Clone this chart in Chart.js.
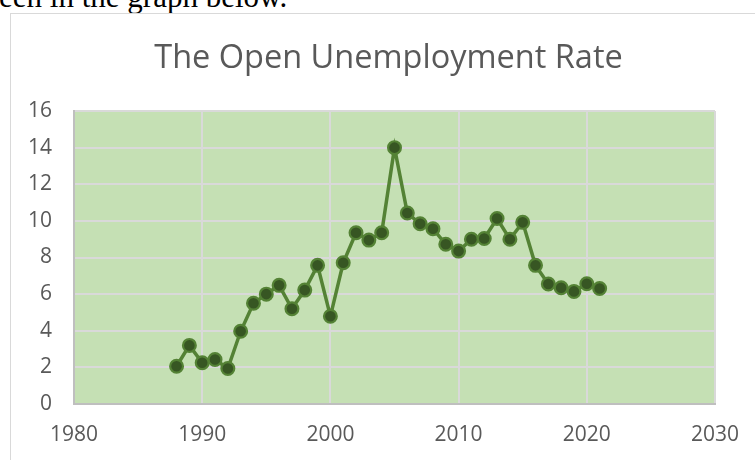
<!DOCTYPE html>
<html>
<head>
<meta charset="utf-8">
<script src="https://cdn.jsdelivr.net/npm/chart.js@4/dist/chart.umd.min.js"></script>
<style>
  html, body { margin: 0; padding: 0; background: #ffffff; overflow: hidden; width: 755px; height: 460px; }
  #intro { position: absolute; left: -13px; top: -19px; font-family: "Liberation Serif", "Times New Roman", serif; font-size: 31px; line-height: 31px; color: #000; white-space: nowrap; }
  #frame { position: absolute; left: 10px; top: 13px; width: 800px; height: 500px; border-left: 1px solid #d9d9d9; border-top: 1px solid #d9d9d9; }
  #wrap { position: absolute; left: 11px; top: 14px; width: 755px; height: 446px; }
</style>
</head>
<body>
<div id="intro">seen in the graph below.</div>
<div id="frame"></div>
<div id="wrap"><canvas id="c"></canvas></div>
<script>
const chartTitle = "The Open Unemployment Rate";
const years = [1988,1989,1990,1991,1992,1993,1994,1995,1996,1997,1998,1999,2000,2001,2002,2003,2004,2005,2006,2007,2008,2009,2010,2011,2012,2013,2014,2015,2016,2017,2018,2019,2020,2021];
const rates = [2.06,3.2,2.25,2.43,1.94,3.97,5.5,6.0,6.48,5.2,6.22,7.57,4.79,7.71,9.35,8.95,9.35,14.0,10.43,9.84,9.57,8.72,8.35,9.0,9.04,10.13,9.0,9.92,7.57,6.55,6.35,6.15,6.57,6.31];
const xTicks = [1980,1990,2000,2010,2020,2030];
const yTicks = [0,2,4,6,8,10,12,14,16];

const points = years.map((y, i) => ({ x: y, y: rates[i] }));

const plotBg = {
  id: 'plotBg',
  beforeDraw(chart) {
    const { ctx, chartArea: a } = chart;
    ctx.save();
    ctx.fillStyle = '#c5e0b4';
    ctx.fillRect(a.left, a.top, a.right - a.left, a.bottom - a.top);
    ctx.restore();
  }
};

const tickFont = { family: "'Open Sans', sans-serif", size: 21 };

new Chart(document.getElementById('c'), {
  type: 'line',
  data: {
    datasets: [{
      data: points,
      borderColor: '#548235',
      borderWidth: 3.5,
      pointRadius: 6.4,
      pointHoverRadius: 6.4,
      pointBorderWidth: 2.2,
      pointBackgroundColor: '#375623',
      pointBorderColor: '#548235',
      tension: 0,
      fill: false
    }]
  },
  options: {
    responsive: true,
    maintainAspectRatio: false,
    animation: false,
    layout: { padding: 0 },
    plugins: {
      legend: { display: false },
      tooltip: { enabled: false },
      title: {
        display: true,
        text: chartTitle,
        color: '#595959',
        font: { family: "'Open Sans', sans-serif", size: 32.5, weight: 'normal', lineHeight: 1.2 },
        padding: { top: 25, bottom: 33 }
      }
    },
    scales: {
      x: {
        type: 'linear',
        min: xTicks[0],
        max: xTicks[xTicks.length - 1],
        afterBuildTicks(scale) { scale.ticks = xTicks.map(v => ({ value: v })); },
        afterFit(scale) { scale.height = 56; },
        ticks: {
          color: '#595959',
          font: tickFont,
          padding: 18,
          maxRotation: 0,
          autoSkip: false,
          callback: v => String(v)
        },
        grid: { color: '#d9d9d9', lineWidth: 2, drawTicks: false },
        border: { display: true, color: '#bfbfbf', width: 2 }
      },
      y: {
        min: yTicks[0],
        max: yTicks[yTicks.length - 1],
        afterBuildTicks(scale) { scale.ticks = yTicks.map(v => ({ value: v })); },
        afterFit(scale) { scale.width = 63; },
        ticks: {
          color: '#595959',
          font: tickFont,
          padding: 22,
          callback: v => String(v)
        },
        grid: { color: '#d9d9d9', lineWidth: 2, drawTicks: false },
        border: { display: true, color: '#bfbfbf', width: 2 }
      },
      ySpacer: {
        position: 'right',
        min: yTicks[0],
        max: yTicks[yTicks.length - 1],
        afterFit(scale) { scale.width = 51; },
        ticks: { display: false },
        grid: { display: false, drawTicks: false },
        border: { display: false }
      }
    }
  },
  plugins: [plotBg]
});
</script>
</body>
</html>
